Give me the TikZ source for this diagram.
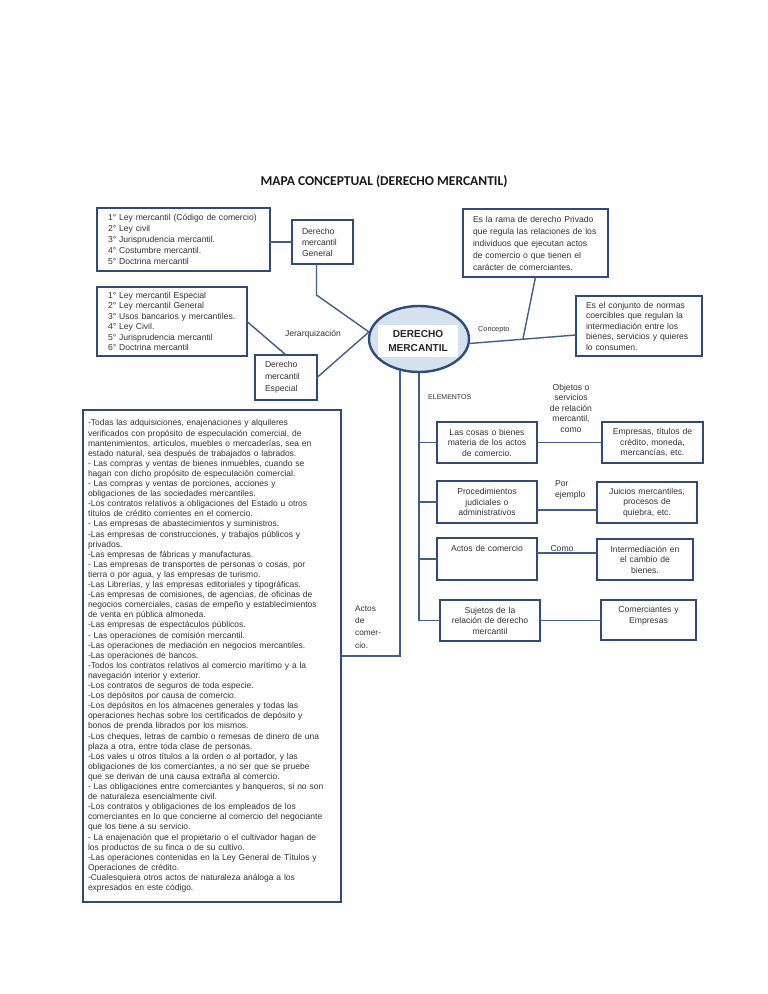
\documentclass[tikz,border=0pt]{standalone}
\usepackage{fontspec}
\setmainfont{Liberation Sans}
\newfontfamily\titlefont{Carlito}
\usetikzlibrary{positioning}
\usetikzlibrary{shapes.geometric}

\definecolor{boxblue}{HTML}{2F4B78}
\definecolor{lineblue}{HTML}{3E5E8C}
\definecolor{fillblue}{HTML}{D6E1EF}
\definecolor{txtgray}{HTML}{333333}

\begin{document}
\begin{tikzpicture}
	[x=1pt,y=-1pt,
	main node/.style={draw=boxblue,line width=1.7pt,fill=white,text=txtgray,inner sep=0pt,outer sep=0pt,anchor=north west},
	list node/.style={main node,align=left,inner xsep=10pt,font=\fontsize{8.6}{11}\selectfont},
	elem node/.style={main node,align=center,minimum width=100,minimum height=41,text width=96,inner xsep=2pt,font=\fontsize{8.6}{10.5}\selectfont},
	label node/.style={text=txtgray,inner sep=0pt,font=\fontsize{8.6}{10.5}\selectfont},
	conn/.style={draw=lineblue,line width=1.4pt}]
	\fill[white] (0,0) rectangle (768,994);
	\useasboundingbox (0,0) rectangle (768,994);
	
	\node [font={\titlefont\fontsize{13.5}{16}\selectfont\bfseries},text=black!90] (title) at (384,182) {MAPA CONCEPTUAL (DERECHO MERCANTIL)};
	
	\node [list node,inner xsep=11pt,minimum width=173,minimum height=63,text width=151] (1) at (97,208) {1° Ley mercantil (Código de comercio)\\2° Ley civil\\3° Jurisprudencia mercantil.\\4° Costumbre mercantil.\\5° Doctrina mercantil};
	\node [list node,minimum width=61,minimum height=44,text width=41] (2) at (292,220) {Derecho\\mercantil\\General};
	\node [list node,inner xsep=11pt,font=\fontsize{8.6}{10.4}\selectfont,minimum width=150,minimum height=69,text width=128] (3) at (97,287) {1° Ley mercantil Especial\\2° Ley mercantil General\\3° Usos bancarios y mercantiles.\\4° Ley Civil.\\5° Jurisprudencia mercantil\\6° Doctrina mercantil};
	\node [list node,font=\fontsize{8.6}{12}\selectfont,minimum width=62,minimum height=45,text width=42] (4) at (255,355) {Derecho\\mercantil\\Especial};
	\node [list node,inner xsep=5pt,font=\fontsize{8.5}{10.1}\selectfont,minimum width=258,minimum height=492,text width=248] (5) at (83,410) {-Todas las adquisiciones, enajenaciones y alquileres\\verificados con propósito de especulación comercial, de\\mantenimientos, artículos, muebles o mercaderías, sea en\\estado natural, sea después de trabajados o labrados.\\- Las compras y ventas de bienes inmuebles, cuando se\\hagan con dicho propósito de especulación comercial.\\- Las compras y ventas de porciones, acciones y\\obligaciones de las sociedades mercantiles.\\-Los contratos relativos a obligaciones del Estado u otros\\títulos de crédito corrientes en el comercio.\\- Las empresas de abastecimientos y suministros.\\-Las empresas de construcciones, y trabajos públicos y\\privados.\\-Las empresas de fábricas y manufacturas.\\- Las empresas de transportes de personas o cosas, por\\tierra o por agua, y las empresas de turismo.\\-Las Librerías, y las empresas editoriales y tipográficas.\\-Las empresas de comisiones, de agencias, de oficinas de\\negocios comerciales, casas de empeño y establecimientos\\de venta en pública almoneda.\\-Las empresas de espectáculos públicos.\\- Las operaciones de comisión mercantil.\\-Las operaciones de mediación en negocios mercantiles.\\-Las operaciones de bancos.\\-Todos los contratos relativos al comercio marítimo y a la\\navegación interior y exterior.\\-Los contratos de seguros de toda especie.\\-Los depósitos por causa de comercio.\\-Los depósitos en los almacenes generales y todas las\\operaciones hechas sobre los certificados de depósito y\\bonos de prenda librados por los mismos.\\-Los cheques, letras de cambio o remesas de dinero de una\\plaza a otra, entre toda clase de personas.\\-Los vales u otros títulos a la orden o al portador, y las\\obligaciones de los comerciantes, a no ser que se pruebe\\que se derivan de una causa extraña al comercio.\\- Las obligaciones entre comerciantes y banqueros, si no son\\de naturaleza esencialmente civil.\\-Los contratos y obligaciones de los empleados de los\\comerciantes en lo que concierne al comercio del negociante\\que los tiene a su servicio.\\- La enajenación que el propietario o el cultivador hagan de\\los productos de su finca o de su cultivo.\\-Las operaciones contenidas en la Ley General de Títulos y\\Operaciones de crédito.\\-Cualesquiera otros actos de naturaleza análoga a los\\expresados en este código.};
	
	\node [ellipse,draw=boxblue,line width=2.4pt,fill=fillblue,minimum width=100,minimum height=66,inner sep=0pt] (DM) at (419,339) {};
	\node [fill=white,inner sep=0pt,minimum width=80,minimum height=32,align=center,text=black!85,font=\fontsize{10.1}{14}\selectfont\bfseries] (DMtext) at (418,341) {DERECHO\\MERCANTIL};
	
	\node [list node,font=\fontsize{8.6}{12}\selectfont,minimum width=145,minimum height=68,text width=125] (6) at (463,209) {Es la rama de derecho Privado\\que regula las relaciones de los\\individuos que ejecutan actos\\de comercio o que tienen el\\carácter de comerciantes.};
	\node [list node,font=\fontsize{8.6}{10.5}\selectfont,minimum width=126,minimum height=60,text width=106] (7) at (576,296) {Es el conjunto de normas\\coercibles que regulan la\\intermediación entre los\\bienes, servicios y quieres\\lo consumen.};
	
	\node [elem node] (8) at (437,422) {Las cosas o bienes\\materia de los actos\\de comercio.};
	\node [elem node,minimum height=42] (9) at (437,481) {Procedimientos\\judiciales o\\administrativos};
	\node [elem node,minimum height=42] (10) at (437,538) {Actos de comercio\\ \mbox{}\\ \mbox{}};
	\node [elem node] (11) at (440,600) {Sujetos de la\\relación de derecho\\mercantil};
	\node [elem node,minimum width=101] (12) at (602,422) {Empresas, títulos de\\crédito, moneda,\\mercancías, etc.};
	\node [elem node] (13) at (597,482) {Juicios mercantiles,\\procesos de\\quiebra, etc.};
	\node [elem node,minimum width=96,text width=92] (14) at (597,539) {Intermediación en\\el cambio de\\bienes.};
	\node [elem node,minimum width=95,minimum height=40,text width=91] (15) at (601,600) {Comerciantes y\\Empresas\\ \mbox{}};
	
	\node [label node] (jer) at (313,334) {Jerarquización};
	\node [label node,anchor=west,font=\fontsize{7.3}{9}\selectfont] (con) at (478,330) {Concepto};
	\node [label node,anchor=west,font=\fontsize{7}{9}\selectfont] (ele) at (428,397) {ELEMENTOS};
	\node [label node,align=left,anchor=west,font=\fontsize{8.3}{12.3}\selectfont] (act) at (355,627) {Actos\\de\\comer-\\cio.};
	\node [label node,align=center] (obj) at (571,408) {Objetos o\\servicios\\de relación\\mercantil,\\como};
	\node [label node,align=left,anchor=west,font=\fontsize{8.6}{11}\selectfont] (por) at (555,490) {Por\\ejemplo};
	\node [label node] (como) at (562,549) {Como};
	
	\path[conn]
	(2.west -| 1.east) edge (2.west)
	(3.east) edge (4.north)
	(4.east) edge (DM.172)
	(8.east) edge (8.east -| 12.west)
	([yshift=-8pt]9.east) edge ([yshift=-8pt]9.east -| 13.west)
	([yshift=6pt]10.east) edge ([yshift=6pt]10.east -| 14.west)
	(11.east) edge (11.east -| 15.west)
	(8.west) edge (8.west -| DM.south)
	(9.west) edge (9.west -| DM.south)
	(10.west) edge (10.west -| DM.south)
	;
	\draw[conn] ([xshift=-6pt]2.south) -- ++(0,31) -- (DM.172);
	\draw[conn] (DM.-5) -- coordinate[pos=0.5] (j) ([yshift=-9pt]7.west);
	\draw[conn] (6.south) -- (j);
	\draw[conn] (DM.south) |- (11.west);
	\draw[conn] (DM.239) |- (5.east);
	
\end{tikzpicture}
\end{document}
